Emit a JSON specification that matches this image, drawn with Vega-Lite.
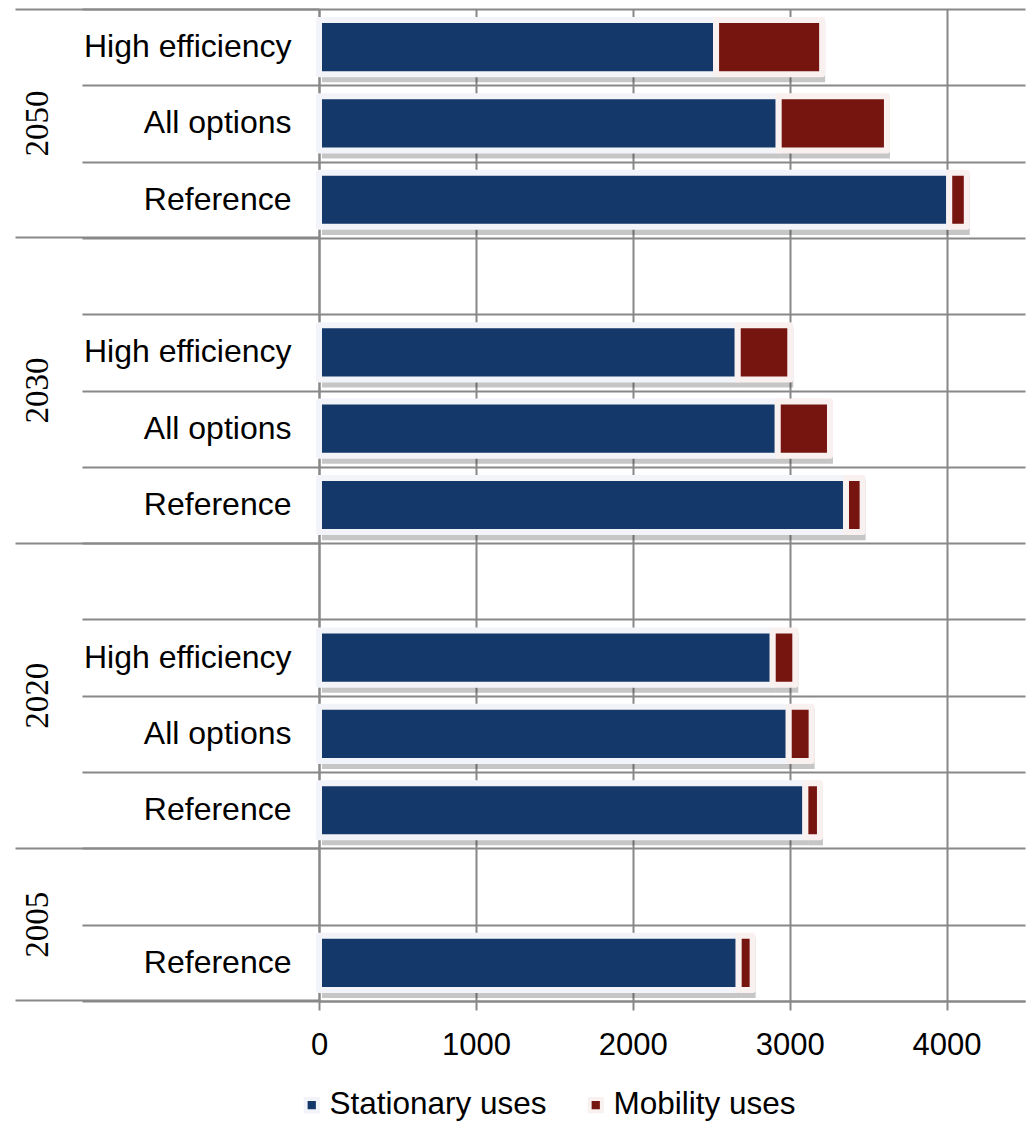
{
  "$schema": "https://vega.github.io/schema/vega-lite/v6.json",
  "autosize": {"type": "none"},
  "padding": {"left": 319, "top": 9, "right": 5, "bottom": 120},
  "width": 706,
  "height": 992,
  "background": "white",
  "config": {
    "view": {"stroke": null},
    "axis": {"labelColor": "black"},
    "legend": {"labelFont": "Liberation Sans"}
  },
  "data": {
    "values": [
      {"row": "2050|High efficiency", "use": "Stationary uses", "value": 2531},
      {"row": "2050|High efficiency", "use": "Mobility uses", "value": 676},
      {"row": "2050|All options", "use": "Stationary uses", "value": 2930},
      {"row": "2050|All options", "use": "Mobility uses", "value": 690},
      {"row": "2050|Reference", "use": "Stationary uses", "value": 4017},
      {"row": "2050|Reference", "use": "Mobility uses", "value": 112},
      {"row": "2030|High efficiency", "use": "Stationary uses", "value": 2669},
      {"row": "2030|High efficiency", "use": "Mobility uses", "value": 335},
      {"row": "2030|All options", "use": "Stationary uses", "value": 2924},
      {"row": "2030|All options", "use": "Mobility uses", "value": 333},
      {"row": "2030|Reference", "use": "Stationary uses", "value": 3359},
      {"row": "2030|Reference", "use": "Mobility uses", "value": 106},
      {"row": "2020|High efficiency", "use": "Stationary uses", "value": 2892},
      {"row": "2020|High efficiency", "use": "Mobility uses", "value": 144},
      {"row": "2020|All options", "use": "Stationary uses", "value": 2994},
      {"row": "2020|All options", "use": "Mobility uses", "value": 146},
      {"row": "2020|Reference", "use": "Stationary uses", "value": 3100},
      {"row": "2020|Reference", "use": "Mobility uses", "value": 93},
      {"row": "2005|Reference", "use": "Stationary uses", "value": 2675},
      {"row": "2005|Reference", "use": "Mobility uses", "value": 89}
    ]
  },
  "encoding": {
    "x": {
      "field": "value", "type": "quantitative", "stack": "zero",
      "scale": {"domain": [0, 4500], "nice": false, "zero": true},
      "axis": {
        "title": null, "values": [0, 1000, 2000, 3000, 4000], "format": "d",
        "grid": true, "gridColor": "#888", "gridWidth": 2,
        "ticks": true, "tickSize": 9, "tickColor": "#888", "tickWidth": 2,
        "domain": true, "domainColor": "#888", "domainWidth": 2,
        "labelFont": "Liberation Sans", "labelFontSize": 31, "labelPadding": 20, "labelFlush": false
      }
    },
    "order": {"field": "use", "sort": "descending"}
  },
  "layer": [
    {
      "mark": {"type": "bar", "height": {"band": 0.79}, "color": "#333", "opacity": 0.28, "strokeWidth": 0, "xOffset": 3, "yOffset": 5},
      "encoding": {
        "y": {
          "field": "row", "type": "nominal",
          "scale": {"type": "band", "paddingInner": 0, "paddingOuter": 0, "domain": ["2050|High efficiency", "2050|All options", "2050|Reference", "2030|", "2030|High efficiency", "2030|All options", "2030|Reference", "2020|", "2020|High efficiency", "2020|All options", "2020|Reference", "2005|", "2005|Reference"]},
          "axis": {"orient": "left", "title": null, "labels": false, "ticks": true, "tickSize": 237, "tickBand": "extent", "tickColor": "#888", "tickWidth": 2, "grid": true, "gridColor": "#888", "gridWidth": 2, "domain": true, "domainColor": "#888", "domainWidth": 2}
        }
      }
    },
    {
      "mark": {"type": "bar", "height": {"band": 0.71}, "strokeWidth": 6, "strokeJoin": "round"},
      "encoding": {
        "y": {
          "field": "row", "type": "nominal",
          "axis": {"orient": "left", "title": null, "ticks": false, "tickSize": 0, "domain": false, "grid": false, "labelPadding": 28, "labelFont": "Liberation Sans", "labelFontSize": 32, "labelLimit": 400, "labelExpr": "split(datum.label,'|')[1]"}
        },
        "color": {
          "field": "use", "type": "nominal",
          "scale": {"domain": ["Stationary uses", "Mobility uses"], "range": ["#14386a", "#761410"]},
          "legend": {"title": null, "orient": "none", "direction": "horizontal", "legendX": -23, "legendY": 1080, "symbolType": "square", "symbolSize": 150, "symbolStrokeWidth": 4, "labelFontSize": 31.5, "labelLimit": 400, "labelOffset": 2, "columnPadding": 33}
        },
        "stroke": {
          "field": "use", "type": "nominal",
          "scale": {"domain": ["Stationary uses", "Mobility uses"], "range": ["#f2f4f9", "#f9f0f0"]},
          "legend": {"title": null, "orient": "none", "direction": "horizontal", "legendX": -23, "legendY": 1080, "symbolType": "square", "symbolSize": 150, "symbolStrokeWidth": 4, "labelFontSize": 31.5, "labelLimit": 400, "labelOffset": 2, "columnPadding": 33}
        }
      }
    },
    {
      "mark": {"type": "bar", "opacity": 0},
      "encoding": {
        "y": {
          "field": "row", "type": "nominal",
          "axis": {"orient": "left", "title": null, "labels": false, "ticks": true, "tickSize": 304, "bandPosition": 0, "tickColor": "#888", "tickWidth": 2, "grid": false, "domain": false, "values": ["2050|High efficiency", "2030|", "2020|", "2005|"]}
        }
      }
    },
    {
      "mark": {"type": "bar", "opacity": 0},
      "encoding": {
        "y": {
          "field": "row", "type": "nominal",
          "axis": {"orient": "left", "title": null, "labels": false, "ticks": true, "tickSize": 304, "bandPosition": 1, "tickColor": "#888", "tickWidth": 2, "grid": false, "domain": false, "values": ["2005|Reference"]}
        }
      }
    },
    {
      "mark": {"type": "bar", "opacity": 0},
      "encoding": {
        "y": {
          "field": "row", "type": "nominal",
          "axis": {"orient": "left", "title": null, "ticks": false, "tickSize": 0, "grid": false, "domain": false, "offset": 281.5, "labelPadding": 0, "labelAngle": -90, "labelAlign": "center", "labelBaseline": "middle", "labelOffset": 38.15, "labelFont": "Liberation Serif, DejaVu Serif, serif", "labelFontSize": 33, "labelExpr": "split(datum.label,'|')[0]", "values": ["2030|High efficiency", "2020|High efficiency", "2005|"]}
        }
      }
    },
    {
      "mark": {"type": "bar", "opacity": 0},
      "encoding": {
        "y": {
          "field": "row", "type": "nominal",
          "axis": {"orient": "left", "title": null, "ticks": false, "tickSize": 0, "grid": false, "domain": false, "offset": 281.5, "labelPadding": 0, "labelAngle": -90, "labelAlign": "center", "labelBaseline": "middle", "labelOffset": 0, "labelFont": "Liberation Serif, DejaVu Serif, serif", "labelFontSize": 33, "labelExpr": "split(datum.label,'|')[0]", "values": ["2050|All options"]}
        }
      }
    }
  ],
  "resolve": {"axis": {"y": "independent"}}
}
